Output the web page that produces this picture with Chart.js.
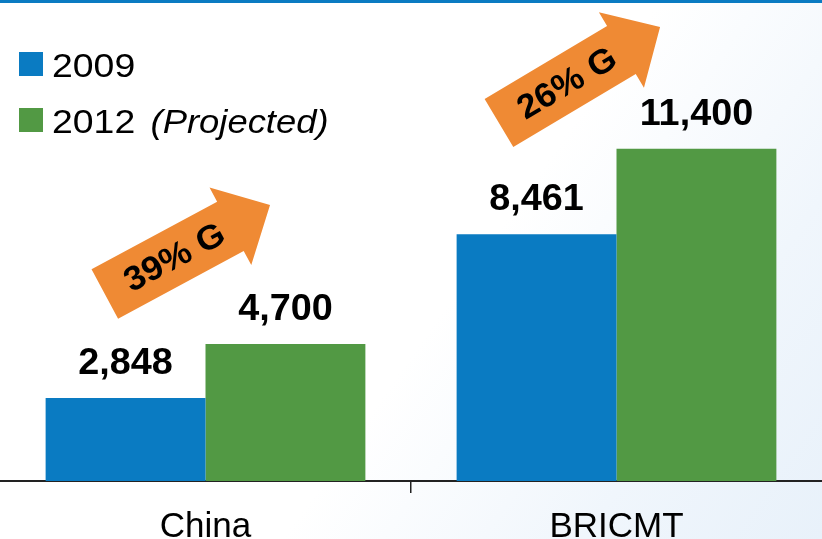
<!DOCTYPE html>
<html>
<head>
<meta charset="utf-8">
<script src="https://cdn.jsdelivr.net/npm/chart.js@4/dist/chart.umd.min.js"></script>
<style>
  html, body { margin: 0; padding: 0; }
  body {
    width: 822px; height: 539px; overflow: hidden; position: relative;
    background: linear-gradient(125deg, #ffffff 0%, #ffffff 55%, #f0f6fc 80%, #e8f1fa 100%);
  }
  .topline { position: absolute; left: 0; top: 0; width: 822px; height: 3px; background: #0a7bc2; z-index: 2; }
  canvas { position: absolute; left: 0; top: 0; }
</style>
</head>
<body>
<div class="topline"></div>
<canvas id="chart" width="822" height="539"></canvas>
<script>
// data
const categories = ['China', 'BRICMT'];
const series2009 = [2848, 8461];
const series2012 = [4700, 11400];
const seriesNames = ['2009', '2012'];
const seriesNotes = ['', '(Projected)'];
const growthLabels = ['39% G', '26% G'];

// arrow annotations in data units: [category position, value]
const arrowTail = [[-0.245, 6415], [0.714, 12281]];
const arrowTip  = [[0.157, 9468], [1.106, 15575]];

const FONT = '"Liberation Sans", Arial, sans-serif';
const BLUE = '#0a7bc2';
const GREEN = '#529944';
const ORANGE = '#ef8a34';

// text slightly stretched sideways, like the source slide
function wideText(ctx, txt, x, y, sx){
  ctx.save();
  ctx.translate(x, y);
  ctx.scale(sx, 1);
  ctx.fillText(txt, 0, 0);
  ctx.restore();
}

const overlay = {
  id: 'overlay',
  afterDatasetsDraw(chart){
    const { ctx, scales: { x, y } } = chart;
    ctx.save();

    // growth arrows
    growthLabels.forEach((txt, i) => {
      const x0 = x.getPixelForValue(arrowTail[i][0]), y0 = y.getPixelForValue(arrowTail[i][1]);
      const x1 = x.getPixelForValue(arrowTip[i][0]),  y1 = y.getPixelForValue(arrowTip[i][1]);
      const len = Math.hypot(x1 - x0, y1 - y0);
      const ang = Math.atan2(y1 - y0, x1 - x0);
      const sw = 56, hw = 88, hl = 45;
      ctx.save();
      ctx.translate(x0, y0);
      ctx.rotate(ang);
      ctx.beginPath();
      ctx.moveTo(0, -sw/2);
      ctx.lineTo(len - hl, -sw/2);
      ctx.lineTo(len - hl, -hw/2);
      ctx.lineTo(len, 0);
      ctx.lineTo(len - hl, hw/2);
      ctx.lineTo(len - hl, sw/2);
      ctx.lineTo(0, sw/2);
      ctx.closePath();
      ctx.fillStyle = ORANGE;
      ctx.fill();
      ctx.fillStyle = '#000';
      ctx.font = 'bold 34px ' + FONT;
      ctx.textAlign = 'center';
      ctx.textBaseline = 'middle';
      wideText(ctx, txt, len * 0.42, 2, 1.05);
      ctx.restore();
    });

    // value labels
    ctx.fillStyle = '#000';
    ctx.font = 'bold 36px ' + FONT;
    ctx.textAlign = 'center';
    ctx.textBaseline = 'alphabetic';
    chart.data.datasets.forEach((ds, d) => {
      chart.getDatasetMeta(d).data.forEach((bar, i) => {
        wideText(ctx, ds.data[i].toLocaleString('en-US'), bar.x, bar.y - 24, 1.05);
      });
    });

    // category labels
    ctx.font = '35px ' + FONT;
    categories.forEach((c, i) => {
      ctx.fillText(c, x.getPixelForValue(i), 537);
    });

    // legend
    const colors = [BLUE, GREEN];
    ctx.textAlign = 'left';
    seriesNames.forEach((name, i) => {
      const top = 52 + i * 56;
      ctx.fillStyle = colors[i];
      ctx.fillRect(19, top, 24, 24);
      ctx.fillStyle = '#000';
      ctx.font = '34px ' + FONT;
      wideText(ctx, name, 52, top + 25, 1.1);
      if (seriesNotes[i]) {
        const w = ctx.measureText(name + ' ').width * 1.1;
        ctx.font = 'italic 34px ' + FONT;
        wideText(ctx, seriesNotes[i], 52 + w + 5, top + 25, 1.07);
      }
    });
    ctx.restore();
  }
};

new Chart(document.getElementById('chart'), {
  type: 'bar',
  data: {
    labels: categories,
    datasets: [
      { label: seriesNames[0], data: series2009, backgroundColor: BLUE },
      { label: seriesNames[1], data: series2012, backgroundColor: GREEN }
    ]
  },
  options: {
    responsive: false,
    devicePixelRatio: 1,
    animation: false,
    layout: { padding: { left: 0, right: 0, top: 0, bottom: 46 } },
    datasets: { bar: { categoryPercentage: 0.778, barPercentage: 1 } },
    plugins: { legend: { display: false }, tooltip: { enabled: false } },
    scales: {
      x: {
        grid: {
          drawOnChartArea: false,
          tickLength: 12,
          lineWidth: 1.5,
          color: c => c.index === 1 ? '#222' : 'rgba(0,0,0,0)'
        },
        border: { display: true, color: '#222', width: 2 },
        ticks: { display: false }
      },
      y: { display: false, min: 0, max: 16500 }
    }
  },
  plugins: [overlay]
});
</script>
</body>
</html>
